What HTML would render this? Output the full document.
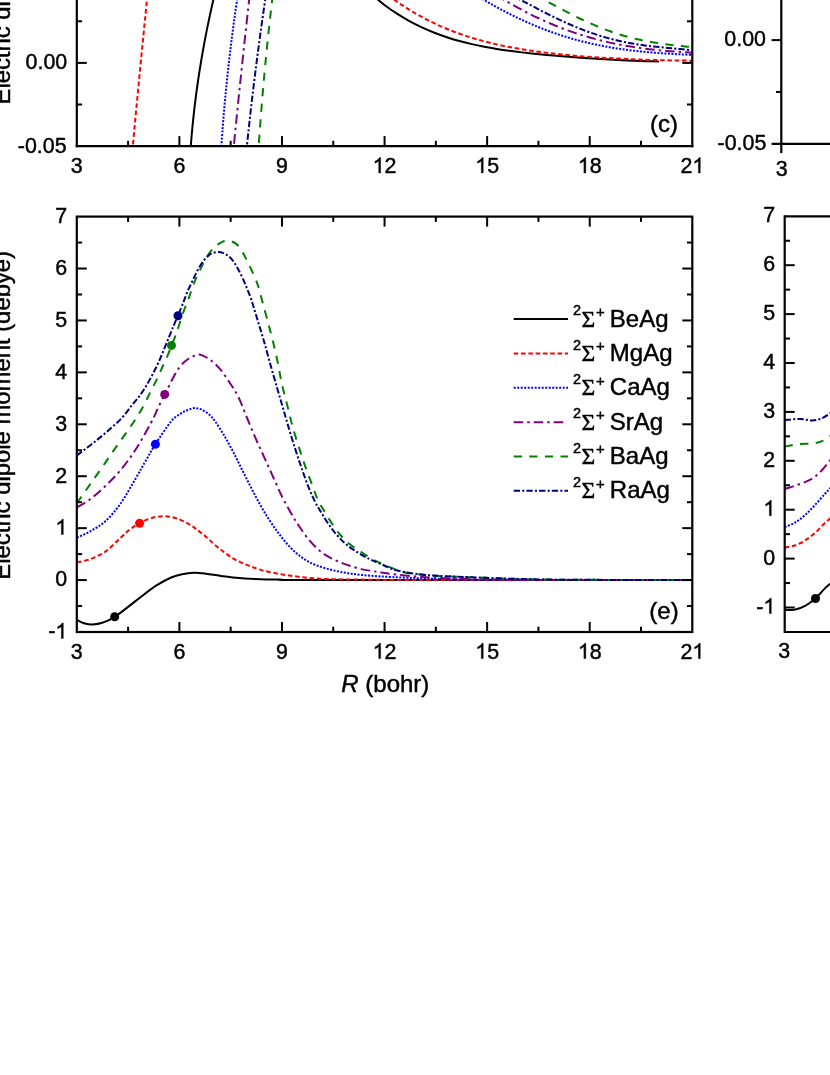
<!DOCTYPE html>
<html><head><meta charset="utf-8"><title>Figure</title>
<style>
html,body{margin:0;padding:0;background:#fff;}
body{width:830px;height:1075px;overflow:hidden;}
text{stroke:#000;stroke-width:0.45px;}
svg{display:block;will-change:transform;opacity:0.9999;font-family:"Liberation Sans",sans-serif;fill:#000;}
</style></head><body>
<svg width="830" height="1075" viewBox="0 0 830 1075">
<rect x="0" y="0" width="830" height="1075" fill="#fff"/>
<defs>
<clipPath id="cc"><rect x="76.80" y="-5" width="615.50" height="151.10"/></clipPath>
<clipPath id="ce"><rect x="76.80" y="216.60" width="615.50" height="415.40"/></clipPath>
<clipPath id="cf"><rect x="784.70" y="216.30" width="100.00" height="415.70"/></clipPath>
</defs>
<path d="M214.48,-5.00 C213.85,-2.22 211.89,6.13 210.67,11.70 C209.45,17.27 208.27,22.83 207.15,28.40 C206.03,33.97 204.95,39.53 203.93,45.10 C202.90,50.67 201.93,56.23 201.00,61.80 C200.08,67.37 199.20,72.93 198.38,78.50 C197.55,84.07 196.77,89.63 196.04,95.20 C195.32,100.77 194.64,106.33 194.01,111.90 C193.38,117.47 192.80,123.03 192.27,128.60 C191.74,134.17 191.07,142.52 190.83,145.30" fill="none" stroke="#000000" stroke-width="2.00" clip-path="url(#cc)"/>
<path d="M146.81,1.60 C146.54,4.26 145.74,12.26 145.20,17.59 C144.66,22.92 144.13,28.25 143.60,33.58 C143.07,38.91 142.54,44.24 142.02,49.57 C141.49,54.90 140.97,60.23 140.45,65.56 C139.93,70.89 139.42,76.21 138.90,81.54 C138.39,86.87 137.88,92.20 137.37,97.53 C136.86,102.86 136.36,108.19 135.85,113.52 C135.35,118.85 134.85,124.18 134.35,129.51 C133.85,134.84 133.11,142.84 132.87,145.50" fill="none" stroke="#ff0000" stroke-width="2.00" stroke-dasharray="4.6 2.7" clip-path="url(#cc)"/>
<path d="M237.83,-5.00 C237.42,-2.22 236.17,6.13 235.37,11.70 C234.58,17.27 233.82,22.83 233.08,28.40 C232.34,33.97 231.63,39.53 230.94,45.10 C230.25,50.67 229.59,56.23 228.96,61.80 C228.32,67.37 227.72,72.93 227.13,78.50 C226.55,84.07 226.00,89.63 225.47,95.20 C224.94,100.77 224.43,106.33 223.96,111.90 C223.48,117.47 223.03,123.03 222.61,128.60 C222.18,134.17 221.61,142.52 221.41,145.30" fill="none" stroke="#0000ff" stroke-width="2.00" stroke-dasharray="2 1.5" clip-path="url(#cc)"/>
<path d="M249.70,-5.00 C249.39,-2.22 248.45,6.13 247.84,11.70 C247.22,17.27 246.61,22.83 246.00,28.40 C245.40,33.97 244.79,39.53 244.19,45.10 C243.59,50.67 243.00,56.23 242.41,61.80 C241.82,67.37 241.23,72.93 240.65,78.50 C240.07,84.07 239.49,89.63 238.91,95.20 C238.34,100.77 237.77,106.33 237.20,111.90 C236.64,117.47 236.08,123.03 235.52,128.60 C234.96,134.17 234.14,142.52 233.86,145.30" fill="none" stroke="#800080" stroke-width="2.00" stroke-dasharray="9.5 4 2.5 4" clip-path="url(#cc)"/>
<path d="M272.76,-5.00 C272.43,-2.20 271.44,6.19 270.80,11.78 C270.16,17.37 269.54,22.96 268.94,28.56 C268.34,34.15 267.75,39.74 267.18,45.33 C266.61,50.93 266.06,56.52 265.52,62.11 C264.98,67.70 264.46,73.30 263.96,78.89 C263.45,84.48 262.97,90.07 262.50,95.67 C262.02,101.26 261.57,106.85 261.13,112.44 C260.69,118.04 260.27,123.63 259.86,129.22 C259.46,134.81 258.89,143.20 258.70,146.00" fill="none" stroke="#008000" stroke-width="2.00" stroke-dasharray="8.2 7.4" clip-path="url(#cc)"/>
<path d="M265.94,-5.00 C265.53,-2.22 264.29,6.13 263.48,11.70 C262.68,17.27 261.89,22.83 261.12,28.40 C260.34,33.97 259.58,39.53 258.84,45.10 C258.09,50.67 257.36,56.23 256.64,61.80 C255.93,67.37 255.22,72.93 254.54,78.50 C253.85,84.07 253.17,89.63 252.52,95.20 C251.86,100.77 251.21,106.33 250.58,111.90 C249.95,117.47 249.34,123.03 248.74,128.60 C248.14,134.17 247.27,142.52 246.98,145.30" fill="none" stroke="#000080" stroke-width="2.00" stroke-dasharray="6.3 2.2 2.1 2.1" clip-path="url(#cc)"/>
<path d="M372.00,-5.22 C374.08,-3.52 380.32,1.81 384.48,4.97 C388.64,8.12 392.80,11.00 396.96,13.70 C401.12,16.40 405.28,18.86 409.43,21.15 C413.59,23.44 417.75,25.52 421.91,27.46 C426.07,29.41 430.23,31.16 434.39,32.79 C438.55,34.43 442.71,35.90 446.87,37.27 C451.03,38.64 455.19,39.87 459.35,41.01 C463.51,42.16 467.67,43.19 471.83,44.14 C475.99,45.10 480.14,45.96 484.30,46.76 C488.46,47.56 492.62,48.28 496.78,48.95 C500.94,49.62 505.10,50.23 509.26,50.80 C513.42,51.37 517.58,51.89 521.74,52.38 C525.90,52.87 530.06,53.32 534.22,53.75 C538.38,54.18 542.54,54.57 546.70,54.95 C550.86,55.33 555.01,55.69 559.17,56.04 C563.33,56.38 567.49,56.71 571.65,57.03 C575.81,57.34 579.97,57.65 584.13,57.94 C588.29,58.23 592.45,58.51 596.61,58.78 C600.77,59.05 604.93,59.31 609.09,59.55 C613.25,59.79 617.41,60.02 621.57,60.23 C625.72,60.44 629.88,60.63 634.04,60.80 C638.20,60.96 642.36,61.11 646.52,61.22 C650.68,61.33 656.92,61.41 659.00,61.44" fill="none" stroke="#000000" stroke-width="2.00" clip-path="url(#cc)"/>
<path d="M388.00,-4.92 C390.20,-3.34 396.81,1.59 401.22,4.55 C405.62,7.52 410.03,10.26 414.43,12.84 C418.84,15.43 423.25,17.81 427.65,20.06 C432.06,22.30 436.46,24.37 440.87,26.31 C445.28,28.26 449.68,30.04 454.09,31.71 C458.49,33.38 462.90,34.92 467.30,36.35 C471.71,37.78 476.12,39.09 480.52,40.32 C484.93,41.54 489.33,42.66 493.74,43.70 C498.14,44.75 502.55,45.69 506.96,46.58 C511.36,47.46 515.77,48.26 520.17,49.01 C524.58,49.76 528.99,50.44 533.39,51.08 C537.80,51.71 542.20,52.28 546.61,52.82 C551.01,53.36 555.42,53.84 559.83,54.30 C564.23,54.75 568.64,55.16 573.04,55.55 C577.45,55.94 581.86,56.29 586.26,56.61 C590.67,56.94 595.07,57.24 599.48,57.52 C603.88,57.81 608.29,58.06 612.70,58.30 C617.10,58.54 621.51,58.76 625.91,58.96 C630.32,59.17 634.72,59.35 639.13,59.52 C643.54,59.69 647.94,59.84 652.35,59.97 C656.75,60.11 661.16,60.23 665.57,60.32 C669.97,60.42 674.38,60.50 678.78,60.56 C683.19,60.61 689.80,60.64 692.00,60.66" fill="none" stroke="#ff0000" stroke-width="2.00" stroke-dasharray="4.6 2.7" clip-path="url(#cc)"/>
<path d="M476.00,-4.90 C477.57,-3.96 482.26,-1.10 485.39,0.74 C488.52,2.57 491.65,4.35 494.78,6.09 C497.91,7.82 501.04,9.51 504.17,11.15 C507.30,12.78 510.43,14.37 513.57,15.91 C516.70,17.45 519.83,18.93 522.96,20.36 C526.09,21.80 529.22,23.18 532.35,24.51 C535.48,25.84 538.61,27.12 541.74,28.35 C544.87,29.58 548.00,30.75 551.13,31.88 C554.26,33.00 557.39,34.07 560.52,35.10 C563.65,36.12 566.78,37.09 569.91,38.02 C573.04,38.94 576.17,39.82 579.30,40.65 C582.43,41.48 585.57,42.25 588.70,42.99 C591.83,43.73 594.96,44.41 598.09,45.06 C601.22,45.71 604.35,46.31 607.48,46.87 C610.61,47.44 613.74,47.96 616.87,48.44 C620.00,48.93 623.13,49.37 626.26,49.79 C629.39,50.20 632.52,50.58 635.65,50.93 C638.78,51.28 641.91,51.59 645.04,51.89 C648.17,52.18 651.30,52.44 654.43,52.69 C657.57,52.93 660.70,53.15 663.83,53.36 C666.96,53.57 670.09,53.75 673.22,53.93 C676.35,54.11 679.48,54.27 682.61,54.43 C685.74,54.59 690.43,54.81 692.00,54.89" fill="none" stroke="#0000ff" stroke-width="2.00" stroke-dasharray="2 1.5" clip-path="url(#cc)"/>
<path d="M496.00,-5.02 C497.42,-4.16 501.68,-1.52 504.52,0.16 C507.36,1.85 510.20,3.49 513.04,5.09 C515.88,6.69 518.72,8.24 521.57,9.75 C524.41,11.26 527.25,12.73 530.09,14.15 C532.93,15.57 535.77,16.95 538.61,18.28 C541.45,19.61 544.29,20.90 547.13,22.14 C549.97,23.39 552.81,24.58 555.65,25.74 C558.49,26.89 561.33,28.00 564.17,29.06 C567.01,30.13 569.86,31.15 572.70,32.13 C575.54,33.10 578.38,34.04 581.22,34.93 C584.06,35.83 586.90,36.68 589.74,37.49 C592.58,38.30 595.42,39.07 598.26,39.80 C601.10,40.53 603.94,41.22 606.78,41.87 C609.62,42.53 612.46,43.14 615.30,43.73 C618.14,44.31 620.99,44.85 623.83,45.36 C626.67,45.88 629.51,46.36 632.35,46.80 C635.19,47.25 638.03,47.67 640.87,48.06 C643.71,48.45 646.55,48.81 649.39,49.14 C652.23,49.48 655.07,49.79 657.91,50.08 C660.75,50.37 663.59,50.63 666.43,50.88 C669.28,51.13 672.12,51.35 674.96,51.57 C677.80,51.78 680.64,51.98 683.48,52.17 C686.32,52.36 690.58,52.61 692.00,52.70" fill="none" stroke="#800080" stroke-width="2.00" stroke-dasharray="9.5 4 2.5 4" clip-path="url(#cc)"/>
<path d="M535.00,-5.10 C536.14,-4.49 539.55,-2.67 541.83,-1.45 C544.10,-0.22 546.38,1.02 548.65,2.25 C550.93,3.48 553.20,4.72 555.48,5.94 C557.75,7.16 560.03,8.39 562.30,9.59 C564.58,10.79 566.86,11.99 569.13,13.16 C571.41,14.33 573.68,15.48 575.96,16.61 C578.23,17.74 580.51,18.85 582.78,19.92 C585.06,21.00 587.33,22.05 589.61,23.06 C591.88,24.08 594.16,25.07 596.43,26.02 C598.71,26.97 600.99,27.89 603.26,28.77 C605.54,29.65 607.81,30.50 610.09,31.31 C612.36,32.12 614.64,32.89 616.91,33.63 C619.19,34.37 621.46,35.06 623.74,35.73 C626.01,36.39 628.29,37.01 630.57,37.60 C632.84,38.19 635.12,38.74 637.39,39.26 C639.67,39.78 641.94,40.27 644.22,40.72 C646.49,41.18 648.77,41.60 651.04,41.99 C653.32,42.39 655.59,42.75 657.87,43.10 C660.14,43.44 662.42,43.76 664.70,44.06 C666.97,44.36 669.25,44.64 671.52,44.91 C673.80,45.17 676.07,45.42 678.35,45.67 C680.62,45.92 682.90,46.15 685.17,46.39 C687.45,46.63 690.86,47.00 692.00,47.12" fill="none" stroke="#008000" stroke-width="2.00" stroke-dasharray="8.2 7.4" clip-path="url(#cc)"/>
<path d="M511.00,-5.12 C512.31,-4.44 516.25,-2.43 518.87,-1.06 C521.49,0.30 524.12,1.69 526.74,3.07 C529.36,4.45 531.99,5.84 534.61,7.21 C537.23,8.58 539.86,9.96 542.48,11.30 C545.10,12.65 547.72,13.99 550.35,15.29 C552.97,16.60 555.59,17.88 558.22,19.13 C560.84,20.38 563.46,21.61 566.09,22.79 C568.71,23.97 571.33,25.12 573.96,26.23 C576.58,27.33 579.20,28.40 581.83,29.42 C584.45,30.44 587.07,31.42 589.70,32.36 C592.32,33.29 594.94,34.18 597.57,35.02 C600.19,35.86 602.81,36.65 605.43,37.40 C608.06,38.15 610.68,38.85 613.30,39.50 C615.93,40.16 618.55,40.77 621.17,41.34 C623.80,41.91 626.42,42.43 629.04,42.92 C631.67,43.40 634.29,43.85 636.91,44.26 C639.54,44.68 642.16,45.05 644.78,45.40 C647.41,45.76 650.03,46.07 652.65,46.37 C655.28,46.68 657.90,46.95 660.52,47.21 C663.14,47.48 665.77,47.72 668.39,47.97 C671.01,48.22 673.64,48.45 676.26,48.70 C678.88,48.95 681.51,49.20 684.13,49.47 C686.75,49.74 690.69,50.19 692.00,50.34" fill="none" stroke="#000080" stroke-width="2.00" stroke-dasharray="6.3 2.2 2.1 2.1" clip-path="url(#cc)"/>
<path d="M77.00,619.90 C78.17,620.45 81.37,622.43 84.00,623.20 C86.63,623.97 89.63,624.62 92.80,624.50 C95.97,624.38 99.33,623.77 103.00,622.50 C106.67,621.23 109.33,620.50 114.80,616.90 C120.27,613.30 128.93,606.10 135.80,600.90 C142.67,595.70 150.10,589.60 156.00,585.70 C161.90,581.80 166.87,579.42 171.20,577.50 C175.53,575.58 178.20,574.98 182.00,574.20 C185.80,573.42 190.00,572.88 194.00,572.80 C198.00,572.72 201.67,573.20 206.00,573.70 C210.33,574.20 215.00,575.13 220.00,575.80 C225.00,576.47 230.17,577.18 236.00,577.70 C241.83,578.22 247.67,578.58 255.00,578.90 C262.33,579.22 269.17,579.42 280.00,579.60 C290.83,579.78 251.33,579.93 320.00,580.00 C388.67,580.07 630.00,580.00 692.00,580.00" fill="none" stroke="#000000" stroke-width="2.00" clip-path="url(#ce)"/>
<path d="M77.00,562.20 C79.20,561.70 85.47,560.97 90.20,559.20 C94.93,557.43 100.33,555.18 105.40,551.60 C110.47,548.02 116.38,541.50 120.60,537.70 C124.82,533.90 127.53,531.22 130.70,528.80 C133.87,526.38 136.22,524.97 139.60,523.20 C142.98,521.43 147.00,519.37 151.00,518.20 C155.00,517.03 159.38,516.20 163.60,516.20 C167.82,516.20 172.10,516.90 176.30,518.20 C180.50,519.50 185.23,522.00 188.80,524.00 C192.37,526.00 194.75,528.00 197.70,530.20 C200.65,532.40 203.57,534.70 206.50,537.20 C209.43,539.70 212.35,542.70 215.30,545.20 C218.25,547.70 221.25,550.00 224.20,552.20 C227.15,554.40 230.07,556.63 233.00,558.40 C235.93,560.17 238.85,561.47 241.80,562.80 C244.75,564.13 247.43,565.18 250.70,566.40 C253.97,567.62 257.43,569.00 261.40,570.10 C265.37,571.20 269.92,572.10 274.50,573.00 C279.08,573.90 284.08,574.78 288.90,575.50 C293.72,576.22 298.58,576.80 303.40,577.30 C308.22,577.80 312.98,578.18 317.80,578.50 C322.62,578.82 321.93,578.98 332.30,579.20 C342.67,579.42 365.38,579.67 380.00,579.80 C394.62,579.93 368.00,579.97 420.00,580.00 C472.00,580.03 646.67,580.00 692.00,580.00" fill="none" stroke="#ff0000" stroke-width="2.00" stroke-dasharray="4.6 2.7" clip-path="url(#ce)"/>
<path d="M77.00,537.70 C79.20,536.63 85.47,534.05 90.20,531.30 C94.93,528.55 100.33,525.83 105.40,521.20 C110.47,516.57 115.53,510.67 120.60,503.50 C125.67,496.33 131.58,485.37 135.80,478.20 C140.02,471.03 142.65,466.15 145.90,460.50 C149.15,454.85 151.08,450.83 155.30,444.30 C159.52,437.77 167.08,426.32 171.20,421.30 C175.32,416.28 177.35,416.05 180.00,414.20 C182.65,412.35 184.55,411.22 187.10,410.20 C189.65,409.18 192.65,408.08 195.30,408.10 C197.95,408.12 200.55,409.10 203.00,410.30 C205.45,411.50 207.95,413.43 210.00,415.30 C212.05,417.17 212.93,418.12 215.30,421.50 C217.67,424.88 221.25,430.60 224.20,435.60 C227.15,440.60 230.07,445.90 233.00,451.50 C235.93,457.10 238.85,463.30 241.80,469.20 C244.75,475.10 247.75,481.18 250.70,486.90 C253.65,492.62 256.53,498.20 259.50,503.50 C262.47,508.80 265.53,514.03 268.50,518.70 C271.47,523.37 274.38,527.52 277.30,531.50 C280.22,535.48 282.87,539.02 286.00,542.60 C289.13,546.18 292.72,550.03 296.10,553.00 C299.48,555.97 302.68,558.27 306.30,560.40 C309.92,562.53 313.47,564.18 317.80,565.80 C322.13,567.42 327.48,568.90 332.30,570.10 C337.12,571.30 341.88,572.20 346.70,573.00 C351.52,573.80 355.65,574.33 361.20,574.90 C366.75,575.47 372.10,575.92 380.00,576.40 C387.90,576.88 397.42,577.35 408.60,577.80 C419.78,578.25 431.87,578.77 447.10,579.10 C462.33,579.43 459.18,579.65 500.00,579.80 C540.82,579.95 660.00,579.97 692.00,580.00" fill="none" stroke="#0000ff" stroke-width="2.00" stroke-dasharray="2 1.5" clip-path="url(#ce)"/>
<path d="M77.00,507.30 C79.20,505.95 85.47,502.75 90.20,499.20 C94.93,495.65 100.33,490.87 105.40,486.00 C110.47,481.13 115.53,476.12 120.60,470.00 C125.67,463.88 130.73,457.17 135.80,449.30 C140.87,441.43 147.40,429.45 151.00,422.80 C154.60,416.15 155.13,414.17 157.40,409.40 C159.67,404.63 162.65,398.12 164.60,394.20 C166.55,390.28 167.52,388.95 169.10,385.90 C170.68,382.85 172.33,379.05 174.10,375.90 C175.87,372.75 177.75,369.52 179.70,367.00 C181.65,364.48 183.58,362.58 185.80,360.80 C188.02,359.02 190.58,357.32 193.00,356.30 C195.42,355.28 197.50,354.15 200.30,354.70 C203.10,355.25 206.60,357.32 209.80,359.60 C213.00,361.88 216.25,364.65 219.50,368.40 C222.75,372.15 226.17,377.37 229.30,382.10 C232.43,386.83 235.33,390.82 238.30,396.80 C241.27,402.78 244.15,410.93 247.10,418.00 C250.05,425.07 253.05,432.43 256.00,439.20 C258.95,445.97 261.87,452.13 264.80,458.60 C267.73,465.07 270.65,471.52 273.60,478.00 C276.55,484.48 279.47,491.42 282.50,497.50 C285.53,503.58 289.05,509.75 291.80,514.50 C294.55,519.25 296.35,522.03 299.00,526.00 C301.65,529.97 304.57,534.43 307.70,538.30 C310.83,542.17 314.43,546.18 317.80,549.20 C321.17,552.22 324.52,554.37 327.90,556.40 C331.28,558.43 334.48,559.83 338.10,561.40 C341.72,562.97 345.75,564.52 349.60,565.80 C353.45,567.08 357.33,568.22 361.20,569.10 C365.07,569.98 369.67,570.57 372.80,571.10 C375.93,571.63 376.05,571.72 380.00,572.30 C383.95,572.88 389.53,573.83 396.50,574.60 C403.47,575.37 413.37,576.28 421.80,576.90 C430.23,577.52 436.57,577.90 447.10,578.30 C457.63,578.70 469.52,579.02 485.00,579.30 C500.48,579.58 505.50,579.88 540.00,580.00 C574.50,580.12 666.67,580.00 692.00,580.00" fill="none" stroke="#800080" stroke-width="2.00" stroke-dasharray="9.5 4 2.5 4" clip-path="url(#ce)"/>
<path d="M76.80,503.30 C77.53,502.25 78.70,500.57 81.20,497.00 C83.70,493.43 88.12,487.12 91.80,481.90 C95.48,476.68 99.62,471.00 103.30,465.70 C106.98,460.40 110.37,455.20 113.90,450.10 C117.43,445.00 121.03,440.03 124.50,435.10 C127.97,430.17 131.63,425.17 134.70,420.50 C137.77,415.83 140.33,411.75 142.90,407.10 C145.47,402.45 147.87,397.05 150.10,392.60 C152.33,388.15 154.25,384.67 156.30,380.40 C158.35,376.13 160.45,371.28 162.40,367.00 C164.35,362.72 166.48,358.30 168.00,354.70 C169.52,351.10 170.30,348.47 171.50,345.40 C172.70,342.33 174.02,339.45 175.20,336.30 C176.38,333.15 177.02,331.13 178.60,326.50 C180.18,321.87 183.02,313.18 184.70,308.50 C186.38,303.82 187.55,301.52 188.70,298.40 C189.85,295.28 190.63,292.53 191.60,289.80 C192.57,287.07 193.55,284.42 194.50,282.00 C195.45,279.58 196.18,277.70 197.30,275.30 C198.42,272.90 199.90,270.17 201.20,267.60 C202.50,265.03 203.50,262.63 205.10,259.90 C206.70,257.17 208.88,253.62 210.80,251.20 C212.72,248.78 214.67,246.97 216.60,245.40 C218.53,243.83 220.47,242.60 222.40,241.80 C224.33,241.00 226.27,240.48 228.20,240.60 C230.13,240.72 232.23,241.53 234.00,242.50 C235.77,243.47 237.20,244.47 238.80,246.40 C240.40,248.33 242.15,251.53 243.60,254.10 C245.05,256.67 246.22,259.23 247.50,261.80 C248.78,264.37 250.02,266.77 251.30,269.50 C252.58,272.23 254.07,275.47 255.20,278.20 C256.33,280.93 256.88,281.93 258.10,285.90 C259.32,289.87 260.85,295.90 262.50,302.00 C264.15,308.10 266.32,316.17 268.00,322.50 C269.68,328.83 271.00,333.45 272.60,340.00 C274.20,346.55 276.07,354.53 277.60,361.80 C279.13,369.07 280.12,376.07 281.80,383.60 C283.48,391.13 285.88,399.75 287.70,407.00 C289.52,414.25 290.75,420.12 292.70,427.10 C294.65,434.08 297.25,442.20 299.40,448.90 C301.55,455.60 303.42,461.17 305.60,467.30 C307.78,473.43 310.47,480.25 312.50,485.70 C314.53,491.15 315.95,495.93 317.80,500.00 C319.65,504.07 321.43,506.48 323.60,510.10 C325.77,513.72 328.15,517.72 330.80,521.70 C333.45,525.68 336.37,530.27 339.50,534.00 C342.63,537.73 345.98,541.10 349.60,544.10 C353.22,547.10 357.33,549.47 361.20,552.00 C365.07,554.53 369.67,557.50 372.80,559.30 C375.93,561.10 375.20,560.75 380.00,562.80 C384.80,564.85 394.63,569.62 401.60,571.60 C408.57,573.58 414.22,573.90 421.80,574.70 C429.38,575.50 436.45,575.88 447.10,576.40 C457.75,576.92 472.88,577.35 485.70,577.80 C498.52,578.25 508.28,578.77 524.00,579.10 C539.72,579.43 552.00,579.65 580.00,579.80 C608.00,579.95 673.33,579.97 692.00,580.00" fill="none" stroke="#008000" stroke-width="2.00" stroke-dasharray="8.2 7.4" clip-path="url(#ce)"/>
<path d="M77.00,455.40 C77.90,454.70 79.20,453.67 82.40,451.20 C85.60,448.73 91.60,444.30 96.20,440.60 C100.80,436.90 105.65,432.85 110.00,429.00 C114.35,425.15 118.68,421.42 122.30,417.50 C125.92,413.58 128.83,409.08 131.70,405.50 C134.57,401.92 137.08,399.27 139.50,396.00 C141.92,392.73 143.97,389.62 146.20,385.90 C148.43,382.18 150.85,377.60 152.90,373.70 C154.95,369.80 156.63,366.60 158.50,362.50 C160.37,358.40 162.25,353.57 164.10,349.10 C165.95,344.63 167.93,339.78 169.60,335.70 C171.27,331.62 172.70,327.95 174.10,324.60 C175.50,321.25 176.43,319.37 178.00,315.60 C179.57,311.83 181.92,306.02 183.50,302.00 C185.08,297.98 186.15,294.70 187.50,291.50 C188.85,288.30 190.28,285.62 191.60,282.80 C192.92,279.98 194.12,277.18 195.40,274.60 C196.68,272.02 197.85,269.73 199.30,267.30 C200.75,264.87 202.50,262.02 204.10,260.00 C205.70,257.98 207.45,256.37 208.90,255.20 C210.35,254.03 211.18,253.53 212.80,253.00 C214.42,252.47 216.83,251.98 218.60,252.00 C220.37,252.02 221.80,252.43 223.40,253.10 C225.00,253.77 226.60,254.72 228.20,256.00 C229.80,257.28 231.40,258.70 233.00,260.80 C234.60,262.90 236.18,265.70 237.80,268.60 C239.42,271.50 241.08,274.67 242.70,278.20 C244.32,281.73 246.07,286.27 247.50,289.80 C248.93,293.33 250.43,297.03 251.30,299.40 C252.17,301.77 251.48,299.98 252.70,304.00 C253.92,308.02 256.68,317.17 258.60,323.50 C260.52,329.83 262.28,335.33 264.20,342.00 C266.12,348.67 268.00,356.02 270.10,363.50 C272.20,370.98 274.70,379.65 276.80,386.90 C278.90,394.15 280.75,400.30 282.70,407.00 C284.65,413.70 286.42,420.12 288.50,427.10 C290.58,434.08 292.97,441.92 295.20,448.90 C297.43,455.88 299.67,462.58 301.90,469.00 C304.13,475.42 306.43,482.00 308.60,487.40 C310.77,492.80 312.88,497.37 314.90,501.40 C316.92,505.43 318.53,507.98 320.70,511.60 C322.87,515.22 325.25,519.25 327.90,523.10 C330.55,526.95 333.47,531.08 336.60,534.70 C339.73,538.32 343.08,541.78 346.70,544.80 C350.32,547.82 354.43,550.38 358.30,552.80 C362.17,555.22 366.28,557.50 369.90,559.30 C373.52,561.10 375.57,561.77 380.00,563.60 C384.43,565.43 389.53,568.48 396.50,570.30 C403.47,572.12 413.37,573.50 421.80,574.50 C430.23,575.50 436.45,575.75 447.10,576.30 C457.75,576.85 472.88,577.33 485.70,577.80 C498.52,578.27 508.28,578.77 524.00,579.10 C539.72,579.43 552.00,579.65 580.00,579.80 C608.00,579.95 673.33,579.97 692.00,580.00" fill="none" stroke="#000080" stroke-width="2.00" stroke-dasharray="6.3 2.2 2.1 2.1" clip-path="url(#ce)"/>
<circle cx="114.7" cy="616.8" r="4.5" fill="#000000"/>
<circle cx="139.6" cy="523.2" r="4.5" fill="#ff0000"/>
<circle cx="155.4" cy="444.2" r="4.5" fill="#0000ff"/>
<circle cx="164.7" cy="394.4" r="4.5" fill="#800080"/>
<circle cx="171.5" cy="345.4" r="4.5" fill="#008000"/>
<circle cx="178.0" cy="315.8" r="4.5" fill="#000080"/>
<path d="M784.70,610.20 C786.48,610.07 792.00,610.13 795.40,609.40 C798.80,608.67 801.75,607.62 805.10,605.80 C808.45,603.98 812.28,601.32 815.50,598.50 C818.72,595.68 821.98,591.32 824.40,588.90 C826.82,586.48 828.07,585.65 830.00,584.00 C831.93,582.35 835.00,579.83 836.00,579.00" fill="none" stroke="#000000" stroke-width="2.00" clip-path="url(#cf)"/>
<path d="M784.70,547.70 C786.48,547.30 792.00,546.52 795.40,545.30 C798.80,544.08 801.88,542.42 805.10,540.40 C808.32,538.38 811.48,536.02 814.70,533.20 C817.92,530.38 821.85,525.93 824.40,523.50 C826.95,521.07 828.07,520.35 830.00,518.60 C831.93,516.85 835.00,513.93 836.00,513.00" fill="none" stroke="#ff0000" stroke-width="2.00" stroke-dasharray="4.6 2.7" clip-path="url(#cf)"/>
<path d="M784.70,527.10 C786.48,526.30 792.00,524.32 795.40,522.30 C798.80,520.28 801.88,517.83 805.10,515.00 C808.32,512.17 811.48,508.73 814.70,505.30 C817.92,501.87 821.85,497.22 824.40,494.40 C826.95,491.58 828.07,490.47 830.00,488.40 C831.93,486.33 835.00,483.07 836.00,482.00" fill="none" stroke="#0000ff" stroke-width="2.00" stroke-dasharray="2 1.5" clip-path="url(#cf)"/>
<path d="M784.70,489.10 C786.88,488.37 793.60,486.23 797.80,484.70 C802.00,483.17 806.27,481.92 809.90,479.90 C813.53,477.88 816.25,475.83 819.60,472.60 C822.95,469.37 827.27,463.77 830.00,460.50 C832.73,457.23 835.00,454.25 836.00,453.00" fill="none" stroke="#800080" stroke-width="2.00" stroke-dasharray="9.5 4 2.5 4" clip-path="url(#cf)"/>
<path d="M784.70,446.70 C786.88,446.27 793.20,444.62 797.80,444.10 C802.40,443.58 808.27,444.08 812.30,443.60 C816.33,443.12 819.05,442.42 822.00,441.20 C824.95,439.98 827.67,438.00 830.00,436.30 C832.33,434.60 835.00,431.88 836.00,431.00" fill="none" stroke="#008000" stroke-width="2.00" stroke-dasharray="8.2 7.4" clip-path="url(#cf)"/>
<path d="M784.70,420.10 C787.28,419.90 795.60,418.82 800.20,418.90 C804.80,418.98 808.67,420.72 812.30,420.60 C815.93,420.48 819.05,419.42 822.00,418.20 C824.95,416.98 827.67,415.00 830.00,413.30 C832.33,411.60 835.00,408.88 836.00,408.00" fill="none" stroke="#000080" stroke-width="2.00" stroke-dasharray="6.3 2.2 2.1 2.1" clip-path="url(#cf)"/>
<circle cx="815.5" cy="598.5" r="4.5" fill="#000"/>
<line x1="76.80" y1="-5.00" x2="76.80" y2="147.20" stroke="#000" stroke-width="2.20"/>
<line x1="692.30" y1="-5.00" x2="692.30" y2="147.20" stroke="#000" stroke-width="2.20"/>
<line x1="75.70" y1="146.10" x2="693.40" y2="146.10" stroke="#000" stroke-width="2.20"/>
<line x1="128.09" y1="146.10" x2="128.09" y2="140.80" stroke="#000" stroke-width="2.00"/>
<line x1="179.38" y1="146.10" x2="179.38" y2="136.10" stroke="#000" stroke-width="2.00"/>
<line x1="230.68" y1="146.10" x2="230.68" y2="140.80" stroke="#000" stroke-width="2.00"/>
<line x1="281.97" y1="146.10" x2="281.97" y2="136.10" stroke="#000" stroke-width="2.00"/>
<line x1="333.26" y1="146.10" x2="333.26" y2="140.80" stroke="#000" stroke-width="2.00"/>
<line x1="384.55" y1="146.10" x2="384.55" y2="136.10" stroke="#000" stroke-width="2.00"/>
<line x1="435.84" y1="146.10" x2="435.84" y2="140.80" stroke="#000" stroke-width="2.00"/>
<line x1="487.13" y1="146.10" x2="487.13" y2="136.10" stroke="#000" stroke-width="2.00"/>
<line x1="538.42" y1="146.10" x2="538.42" y2="140.80" stroke="#000" stroke-width="2.00"/>
<line x1="589.72" y1="146.10" x2="589.72" y2="136.10" stroke="#000" stroke-width="2.00"/>
<line x1="641.01" y1="146.10" x2="641.01" y2="140.80" stroke="#000" stroke-width="2.00"/>
<line x1="76.80" y1="21.30" x2="82.10" y2="21.30" stroke="#000" stroke-width="2.00"/>
<line x1="692.30" y1="21.30" x2="687.00" y2="21.30" stroke="#000" stroke-width="2.00"/>
<line x1="76.80" y1="62.90" x2="86.80" y2="62.90" stroke="#000" stroke-width="2.00"/>
<line x1="692.30" y1="62.90" x2="682.30" y2="62.90" stroke="#000" stroke-width="2.00"/>
<line x1="76.80" y1="104.50" x2="82.10" y2="104.50" stroke="#000" stroke-width="2.00"/>
<line x1="692.30" y1="104.50" x2="687.00" y2="104.50" stroke="#000" stroke-width="2.00"/>
<rect x="76.80" y="216.60" width="615.50" height="415.40" fill="none" stroke="#000" stroke-width="2.20"/>
<line x1="128.09" y1="632.00" x2="128.09" y2="626.70" stroke="#000" stroke-width="2.00"/>
<line x1="128.09" y1="216.60" x2="128.09" y2="221.90" stroke="#000" stroke-width="2.00"/>
<line x1="179.38" y1="632.00" x2="179.38" y2="622.00" stroke="#000" stroke-width="2.00"/>
<line x1="179.38" y1="216.60" x2="179.38" y2="226.60" stroke="#000" stroke-width="2.00"/>
<line x1="230.68" y1="632.00" x2="230.68" y2="626.70" stroke="#000" stroke-width="2.00"/>
<line x1="230.68" y1="216.60" x2="230.68" y2="221.90" stroke="#000" stroke-width="2.00"/>
<line x1="281.97" y1="632.00" x2="281.97" y2="622.00" stroke="#000" stroke-width="2.00"/>
<line x1="281.97" y1="216.60" x2="281.97" y2="226.60" stroke="#000" stroke-width="2.00"/>
<line x1="333.26" y1="632.00" x2="333.26" y2="626.70" stroke="#000" stroke-width="2.00"/>
<line x1="333.26" y1="216.60" x2="333.26" y2="221.90" stroke="#000" stroke-width="2.00"/>
<line x1="384.55" y1="632.00" x2="384.55" y2="622.00" stroke="#000" stroke-width="2.00"/>
<line x1="384.55" y1="216.60" x2="384.55" y2="226.60" stroke="#000" stroke-width="2.00"/>
<line x1="435.84" y1="632.00" x2="435.84" y2="626.70" stroke="#000" stroke-width="2.00"/>
<line x1="435.84" y1="216.60" x2="435.84" y2="221.90" stroke="#000" stroke-width="2.00"/>
<line x1="487.13" y1="632.00" x2="487.13" y2="622.00" stroke="#000" stroke-width="2.00"/>
<line x1="487.13" y1="216.60" x2="487.13" y2="226.60" stroke="#000" stroke-width="2.00"/>
<line x1="538.42" y1="632.00" x2="538.42" y2="626.70" stroke="#000" stroke-width="2.00"/>
<line x1="538.42" y1="216.60" x2="538.42" y2="221.90" stroke="#000" stroke-width="2.00"/>
<line x1="589.72" y1="632.00" x2="589.72" y2="622.00" stroke="#000" stroke-width="2.00"/>
<line x1="589.72" y1="216.60" x2="589.72" y2="226.60" stroke="#000" stroke-width="2.00"/>
<line x1="641.01" y1="632.00" x2="641.01" y2="626.70" stroke="#000" stroke-width="2.00"/>
<line x1="641.01" y1="216.60" x2="641.01" y2="221.90" stroke="#000" stroke-width="2.00"/>
<line x1="76.80" y1="606.04" x2="82.10" y2="606.04" stroke="#000" stroke-width="2.00"/>
<line x1="692.30" y1="606.04" x2="687.00" y2="606.04" stroke="#000" stroke-width="2.00"/>
<line x1="76.80" y1="580.08" x2="86.80" y2="580.08" stroke="#000" stroke-width="2.00"/>
<line x1="692.30" y1="580.08" x2="682.30" y2="580.08" stroke="#000" stroke-width="2.00"/>
<line x1="76.80" y1="554.11" x2="82.10" y2="554.11" stroke="#000" stroke-width="2.00"/>
<line x1="692.30" y1="554.11" x2="687.00" y2="554.11" stroke="#000" stroke-width="2.00"/>
<line x1="76.80" y1="528.15" x2="86.80" y2="528.15" stroke="#000" stroke-width="2.00"/>
<line x1="692.30" y1="528.15" x2="682.30" y2="528.15" stroke="#000" stroke-width="2.00"/>
<line x1="76.80" y1="502.19" x2="82.10" y2="502.19" stroke="#000" stroke-width="2.00"/>
<line x1="692.30" y1="502.19" x2="687.00" y2="502.19" stroke="#000" stroke-width="2.00"/>
<line x1="76.80" y1="476.23" x2="86.80" y2="476.23" stroke="#000" stroke-width="2.00"/>
<line x1="692.30" y1="476.23" x2="682.30" y2="476.23" stroke="#000" stroke-width="2.00"/>
<line x1="76.80" y1="450.26" x2="82.10" y2="450.26" stroke="#000" stroke-width="2.00"/>
<line x1="692.30" y1="450.26" x2="687.00" y2="450.26" stroke="#000" stroke-width="2.00"/>
<line x1="76.80" y1="424.30" x2="86.80" y2="424.30" stroke="#000" stroke-width="2.00"/>
<line x1="692.30" y1="424.30" x2="682.30" y2="424.30" stroke="#000" stroke-width="2.00"/>
<line x1="76.80" y1="398.34" x2="82.10" y2="398.34" stroke="#000" stroke-width="2.00"/>
<line x1="692.30" y1="398.34" x2="687.00" y2="398.34" stroke="#000" stroke-width="2.00"/>
<line x1="76.80" y1="372.38" x2="86.80" y2="372.38" stroke="#000" stroke-width="2.00"/>
<line x1="692.30" y1="372.38" x2="682.30" y2="372.38" stroke="#000" stroke-width="2.00"/>
<line x1="76.80" y1="346.41" x2="82.10" y2="346.41" stroke="#000" stroke-width="2.00"/>
<line x1="692.30" y1="346.41" x2="687.00" y2="346.41" stroke="#000" stroke-width="2.00"/>
<line x1="76.80" y1="320.45" x2="86.80" y2="320.45" stroke="#000" stroke-width="2.00"/>
<line x1="692.30" y1="320.45" x2="682.30" y2="320.45" stroke="#000" stroke-width="2.00"/>
<line x1="76.80" y1="294.49" x2="82.10" y2="294.49" stroke="#000" stroke-width="2.00"/>
<line x1="692.30" y1="294.49" x2="687.00" y2="294.49" stroke="#000" stroke-width="2.00"/>
<line x1="76.80" y1="268.53" x2="86.80" y2="268.53" stroke="#000" stroke-width="2.00"/>
<line x1="692.30" y1="268.53" x2="682.30" y2="268.53" stroke="#000" stroke-width="2.00"/>
<line x1="76.80" y1="242.56" x2="82.10" y2="242.56" stroke="#000" stroke-width="2.00"/>
<line x1="692.30" y1="242.56" x2="687.00" y2="242.56" stroke="#000" stroke-width="2.00"/>
<line x1="781.30" y1="-5.00" x2="781.30" y2="153.10" stroke="#000" stroke-width="2.20"/>
<line x1="771.60" y1="143.80" x2="835.00" y2="143.80" stroke="#000" stroke-width="2.20"/>
<line x1="771.60" y1="40.10" x2="781.30" y2="40.10" stroke="#000" stroke-width="2.00"/>
<line x1="776.00" y1="91.95" x2="781.30" y2="91.95" stroke="#000" stroke-width="2.00"/>
<line x1="784.70" y1="215.20" x2="784.70" y2="633.10" stroke="#000" stroke-width="2.20"/>
<line x1="784.70" y1="216.30" x2="835.00" y2="216.30" stroke="#000" stroke-width="2.20"/>
<line x1="784.70" y1="632.00" x2="835.00" y2="632.00" stroke="#000" stroke-width="2.20"/>
<line x1="784.70" y1="607.50" x2="794.70" y2="607.50" stroke="#000" stroke-width="2.00"/>
<line x1="784.70" y1="583.05" x2="790.00" y2="583.05" stroke="#000" stroke-width="2.00"/>
<line x1="784.70" y1="558.60" x2="794.70" y2="558.60" stroke="#000" stroke-width="2.00"/>
<line x1="784.70" y1="534.15" x2="790.00" y2="534.15" stroke="#000" stroke-width="2.00"/>
<line x1="784.70" y1="509.70" x2="794.70" y2="509.70" stroke="#000" stroke-width="2.00"/>
<line x1="784.70" y1="485.25" x2="790.00" y2="485.25" stroke="#000" stroke-width="2.00"/>
<line x1="784.70" y1="460.80" x2="794.70" y2="460.80" stroke="#000" stroke-width="2.00"/>
<line x1="784.70" y1="436.35" x2="790.00" y2="436.35" stroke="#000" stroke-width="2.00"/>
<line x1="784.70" y1="411.90" x2="794.70" y2="411.90" stroke="#000" stroke-width="2.00"/>
<line x1="784.70" y1="387.45" x2="790.00" y2="387.45" stroke="#000" stroke-width="2.00"/>
<line x1="784.70" y1="363.00" x2="794.70" y2="363.00" stroke="#000" stroke-width="2.00"/>
<line x1="784.70" y1="338.55" x2="790.00" y2="338.55" stroke="#000" stroke-width="2.00"/>
<line x1="784.70" y1="314.10" x2="794.70" y2="314.10" stroke="#000" stroke-width="2.00"/>
<line x1="784.70" y1="289.65" x2="790.00" y2="289.65" stroke="#000" stroke-width="2.00"/>
<line x1="784.70" y1="265.20" x2="794.70" y2="265.20" stroke="#000" stroke-width="2.00"/>
<line x1="784.70" y1="240.75" x2="790.00" y2="240.75" stroke="#000" stroke-width="2.00"/>
<g transform="translate(76.80,172.90) scale(0.955,1)"><text x="-6.23" y="0" font-size="22.40">3</text></g>
<g transform="translate(179.38,172.90) scale(0.955,1)"><text x="-6.23" y="0" font-size="22.40">6</text></g>
<g transform="translate(281.97,172.90) scale(0.955,1)"><text x="-6.23" y="0" font-size="22.40">9</text></g>
<g transform="translate(384.55,172.90) scale(0.955,1)"><path transform="translate(-12.46,0) scale(0.01094,-0.01047)" d="M763,0 L583,0 L583,1147 Q518,1085 412.5,1023 T223,930 L223,1104 Q380,1178 497.5,1283 T664,1466 L763,1466 Z" fill="#000" stroke="#000" stroke-width="41.1"/><text x="0.00" y="0" font-size="22.40">2</text></g>
<g transform="translate(487.13,172.90) scale(0.955,1)"><path transform="translate(-12.46,0) scale(0.01094,-0.01047)" d="M763,0 L583,0 L583,1147 Q518,1085 412.5,1023 T223,930 L223,1104 Q380,1178 497.5,1283 T664,1466 L763,1466 Z" fill="#000" stroke="#000" stroke-width="41.1"/><text x="0.00" y="0" font-size="22.40">5</text></g>
<g transform="translate(589.72,172.90) scale(0.955,1)"><path transform="translate(-12.46,0) scale(0.01094,-0.01047)" d="M763,0 L583,0 L583,1147 Q518,1085 412.5,1023 T223,930 L223,1104 Q380,1178 497.5,1283 T664,1466 L763,1466 Z" fill="#000" stroke="#000" stroke-width="41.1"/><text x="0.00" y="0" font-size="22.40">8</text></g>
<g transform="translate(692.30,172.90) scale(0.955,1)"><text x="-12.46" y="0" font-size="22.40">2</text><path transform="translate(0.00,0) scale(0.01094,-0.01047)" d="M763,0 L583,0 L583,1147 Q518,1085 412.5,1023 T223,930 L223,1104 Q380,1178 497.5,1283 T664,1466 L763,1466 Z" fill="#000" stroke="#000" stroke-width="41.1"/></g>
<g transform="translate(67.20,69.10) scale(0.955,1)"><text x="-43.60" y="0" font-size="22.40">0</text><text x="-31.14" y="0" font-size="22.40">.</text><text x="-24.92" y="0" font-size="22.40">0</text><text x="-12.46" y="0" font-size="22.40">0</text></g>
<g transform="translate(66.60,152.70) scale(0.955,1)"><text x="-51.06" y="0" font-size="22.40">-</text><text x="-43.60" y="0" font-size="22.40">0</text><text x="-31.14" y="0" font-size="22.40">.</text><text x="-24.92" y="0" font-size="22.40">0</text><text x="-12.46" y="0" font-size="22.40">5</text></g>
<text x="664.00" y="131.60" font-size="24.00" text-anchor="middle" >(c)</text>
<g transform="translate(76.80,658.60) scale(0.955,1)"><text x="-6.23" y="0" font-size="22.40">3</text></g>
<g transform="translate(179.38,658.60) scale(0.955,1)"><text x="-6.23" y="0" font-size="22.40">6</text></g>
<g transform="translate(281.97,658.60) scale(0.955,1)"><text x="-6.23" y="0" font-size="22.40">9</text></g>
<g transform="translate(384.55,658.60) scale(0.955,1)"><path transform="translate(-12.46,0) scale(0.01094,-0.01047)" d="M763,0 L583,0 L583,1147 Q518,1085 412.5,1023 T223,930 L223,1104 Q380,1178 497.5,1283 T664,1466 L763,1466 Z" fill="#000" stroke="#000" stroke-width="41.1"/><text x="0.00" y="0" font-size="22.40">2</text></g>
<g transform="translate(487.13,658.60) scale(0.955,1)"><path transform="translate(-12.46,0) scale(0.01094,-0.01047)" d="M763,0 L583,0 L583,1147 Q518,1085 412.5,1023 T223,930 L223,1104 Q380,1178 497.5,1283 T664,1466 L763,1466 Z" fill="#000" stroke="#000" stroke-width="41.1"/><text x="0.00" y="0" font-size="22.40">5</text></g>
<g transform="translate(589.72,658.60) scale(0.955,1)"><path transform="translate(-12.46,0) scale(0.01094,-0.01047)" d="M763,0 L583,0 L583,1147 Q518,1085 412.5,1023 T223,930 L223,1104 Q380,1178 497.5,1283 T664,1466 L763,1466 Z" fill="#000" stroke="#000" stroke-width="41.1"/><text x="0.00" y="0" font-size="22.40">8</text></g>
<g transform="translate(692.30,658.60) scale(0.955,1)"><text x="-12.46" y="0" font-size="22.40">2</text><path transform="translate(0.00,0) scale(0.01094,-0.01047)" d="M763,0 L583,0 L583,1147 Q518,1085 412.5,1023 T223,930 L223,1104 Q380,1178 497.5,1283 T664,1466 L763,1466 Z" fill="#000" stroke="#000" stroke-width="41.1"/></g>
<g transform="translate(67.20,638.40) scale(0.955,1)"><text x="-19.92" y="0" font-size="22.40">-</text><path transform="translate(-12.46,0) scale(0.01094,-0.01047)" d="M763,0 L583,0 L583,1147 Q518,1085 412.5,1023 T223,930 L223,1104 Q380,1178 497.5,1283 T664,1466 L763,1466 Z" fill="#000" stroke="#000" stroke-width="41.1"/></g>
<g transform="translate(67.20,586.48) scale(0.955,1)"><text x="-12.46" y="0" font-size="22.40">0</text></g>
<g transform="translate(67.20,534.55) scale(0.955,1)"><path transform="translate(-12.46,0) scale(0.01094,-0.01047)" d="M763,0 L583,0 L583,1147 Q518,1085 412.5,1023 T223,930 L223,1104 Q380,1178 497.5,1283 T664,1466 L763,1466 Z" fill="#000" stroke="#000" stroke-width="41.1"/></g>
<g transform="translate(67.20,482.62) scale(0.955,1)"><text x="-12.46" y="0" font-size="22.40">2</text></g>
<g transform="translate(67.20,430.70) scale(0.955,1)"><text x="-12.46" y="0" font-size="22.40">3</text></g>
<g transform="translate(67.20,378.77) scale(0.955,1)"><text x="-12.46" y="0" font-size="22.40">4</text></g>
<g transform="translate(67.20,326.85) scale(0.955,1)"><text x="-12.46" y="0" font-size="22.40">5</text></g>
<g transform="translate(67.20,274.93) scale(0.955,1)"><text x="-12.46" y="0" font-size="22.40">6</text></g>
<g transform="translate(67.20,223.00) scale(0.955,1)"><text x="-12.46" y="0" font-size="22.40">7</text></g>
<text x="664.00" y="619.00" font-size="24.00" text-anchor="middle" >(e)</text>
<text x="385.3" y="692" font-size="24.00" text-anchor="middle"><tspan font-style="italic">R</tspan> (bohr)</text>
<g transform="translate(766.00,45.70) scale(0.955,1)"><text x="-43.60" y="0" font-size="22.40">0</text><text x="-31.14" y="0" font-size="22.40">.</text><text x="-24.92" y="0" font-size="22.40">0</text><text x="-12.46" y="0" font-size="22.40">0</text></g>
<g transform="translate(766.30,150.10) scale(0.955,1)"><text x="-51.06" y="0" font-size="22.40">-</text><text x="-43.60" y="0" font-size="22.40">0</text><text x="-31.14" y="0" font-size="22.40">.</text><text x="-24.92" y="0" font-size="22.40">0</text><text x="-12.46" y="0" font-size="22.40">5</text></g>
<g transform="translate(781.60,175.60) scale(0.955,1)"><text x="-6.23" y="0" font-size="22.40">3</text></g>
<g transform="translate(775.20,613.50) scale(0.955,1)"><text x="-19.92" y="0" font-size="22.40">-</text><path transform="translate(-12.46,0) scale(0.01094,-0.01047)" d="M763,0 L583,0 L583,1147 Q518,1085 412.5,1023 T223,930 L223,1104 Q380,1178 497.5,1283 T664,1466 L763,1466 Z" fill="#000" stroke="#000" stroke-width="41.1"/></g>
<g transform="translate(775.20,564.60) scale(0.955,1)"><text x="-12.46" y="0" font-size="22.40">0</text></g>
<g transform="translate(775.20,515.70) scale(0.955,1)"><path transform="translate(-12.46,0) scale(0.01094,-0.01047)" d="M763,0 L583,0 L583,1147 Q518,1085 412.5,1023 T223,930 L223,1104 Q380,1178 497.5,1283 T664,1466 L763,1466 Z" fill="#000" stroke="#000" stroke-width="41.1"/></g>
<g transform="translate(775.20,466.80) scale(0.955,1)"><text x="-12.46" y="0" font-size="22.40">2</text></g>
<g transform="translate(775.20,417.90) scale(0.955,1)"><text x="-12.46" y="0" font-size="22.40">3</text></g>
<g transform="translate(775.20,369.00) scale(0.955,1)"><text x="-12.46" y="0" font-size="22.40">4</text></g>
<g transform="translate(775.20,320.10) scale(0.955,1)"><text x="-12.46" y="0" font-size="22.40">5</text></g>
<g transform="translate(775.20,271.20) scale(0.955,1)"><text x="-12.46" y="0" font-size="22.40">6</text></g>
<g transform="translate(775.20,222.30) scale(0.955,1)"><text x="-12.46" y="0" font-size="22.40">7</text></g>
<g transform="translate(784.30,657.80) scale(0.955,1)"><text x="-6.23" y="0" font-size="22.40">3</text></g>
<text transform="translate(10.0,415.3) rotate(-90)" font-size="23.85" text-anchor="middle">Electric dipole moment (debye)</text>
<text transform="translate(10.0,-59.8) rotate(-90)" font-size="23.85" text-anchor="middle">Electric dipole moment (debye)</text>
<line x1="513.7" y1="319.10" x2="568.00" y2="319.10" stroke="#000000" stroke-width="2.00"/>
<text x="573" y="315.40" font-size="14.5" stroke-width="0.25">2</text>
<text x="581.5" y="326.70" font-size="23.5" stroke-width="0.2" font-family="Liberation Serif, serif">&#931;</text>
<text x="596" y="316.90" font-size="15" stroke-width="0.25">+</text>
<text x="609.8" y="326.70" font-size="24.00">BeAg</text>
<line x1="513.7" y1="353.45" x2="568.00" y2="353.45" stroke="#ff0000" stroke-width="2.00" stroke-dasharray="4.6 2.7"/>
<text x="573" y="349.75" font-size="14.5" stroke-width="0.25">2</text>
<text x="581.5" y="361.05" font-size="23.5" stroke-width="0.2" font-family="Liberation Serif, serif">&#931;</text>
<text x="596" y="351.25" font-size="15" stroke-width="0.25">+</text>
<text x="609.8" y="361.05" font-size="24.00">MgAg</text>
<line x1="513.7" y1="387.80" x2="568.00" y2="387.80" stroke="#0000ff" stroke-width="2.00" stroke-dasharray="2 1.5"/>
<text x="573" y="384.10" font-size="14.5" stroke-width="0.25">2</text>
<text x="581.5" y="395.40" font-size="23.5" stroke-width="0.2" font-family="Liberation Serif, serif">&#931;</text>
<text x="596" y="385.60" font-size="15" stroke-width="0.25">+</text>
<text x="609.8" y="395.40" font-size="24.00">CaAg</text>
<line x1="513.7" y1="422.15" x2="563.30" y2="422.15" stroke="#800080" stroke-width="2.00" stroke-dasharray="9.5 4 2.5 4"/>
<text x="573" y="418.45" font-size="14.5" stroke-width="0.25">2</text>
<text x="581.5" y="429.75" font-size="23.5" stroke-width="0.2" font-family="Liberation Serif, serif">&#931;</text>
<text x="596" y="419.95" font-size="15" stroke-width="0.25">+</text>
<text x="609.8" y="429.75" font-size="24.00">SrAg</text>
<line x1="513.7" y1="456.50" x2="568.00" y2="456.50" stroke="#008000" stroke-width="2.00" stroke-dasharray="8.2 7.4"/>
<text x="573" y="452.80" font-size="14.5" stroke-width="0.25">2</text>
<text x="581.5" y="464.10" font-size="23.5" stroke-width="0.2" font-family="Liberation Serif, serif">&#931;</text>
<text x="596" y="454.30" font-size="15" stroke-width="0.25">+</text>
<text x="609.8" y="464.10" font-size="24.00">BaAg</text>
<line x1="513.7" y1="490.85" x2="568.00" y2="490.85" stroke="#000080" stroke-width="2.00" stroke-dasharray="6.3 2.2 2.1 2.1"/>
<text x="573" y="487.15" font-size="14.5" stroke-width="0.25">2</text>
<text x="581.5" y="498.45" font-size="23.5" stroke-width="0.2" font-family="Liberation Serif, serif">&#931;</text>
<text x="596" y="488.65" font-size="15" stroke-width="0.25">+</text>
<text x="609.8" y="498.45" font-size="24.00">RaAg</text>
</svg>
</body></html>
